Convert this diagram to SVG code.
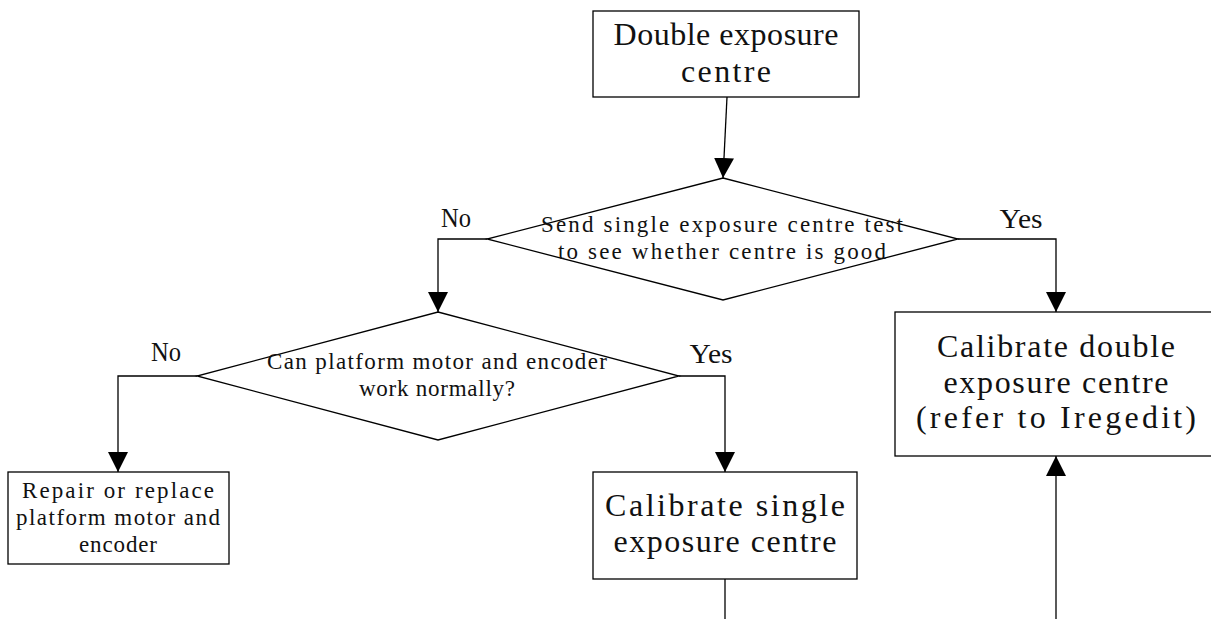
<svg xmlns="http://www.w3.org/2000/svg" width="1211" height="619" viewBox="0 0 1211 619">
<style>
.box{fill:#fff;stroke:#000;stroke-width:1.3}
.con{fill:none;stroke:#000;stroke-width:1.3}
.t{font-family:"Liberation Serif","Times New Roman",serif;fill:#111;text-anchor:middle}
.big{font-size:32px}
.mid{font-size:23px}
.lbl{font-size:28px}
</style>
<defs>
<marker id="arr" markerUnits="userSpaceOnUse" markerWidth="20" markerHeight="20" refX="20" refY="10" orient="auto">
<path d="M0,0 L20,10 L0,20 z" fill="#000"/>
</marker>
</defs>
<rect width="1211" height="619" fill="#fff"/>
<g id="connectors">
<path class="con" d="M727,97 L723,178" marker-end="url(#arr)"/>
<path class="con" d="M487,239 L438,239 L438,312" marker-end="url(#arr)"/>
<path class="con" d="M958,239 L1056,239 L1056,312" marker-end="url(#arr)"/>
<path class="con" d="M197,376 L118,376 L118,472" marker-end="url(#arr)"/>
<path class="con" d="M679,376 L725,376 L725,472" marker-end="url(#arr)"/>
<path class="con" d="M725,579 L725,619"/>
<path class="con" d="M1056,619 L1056,456" marker-end="url(#arr)"/>
<text class="t lbl" x="456" y="227" textLength="30" lengthAdjust="spacingAndGlyphs">No</text>
<text class="t lbl" x="1021" y="228" textLength="43" lengthAdjust="spacingAndGlyphs">Yes</text>
<text class="t lbl" x="166" y="361" textLength="30" lengthAdjust="spacingAndGlyphs">No</text>
<text class="t lbl" x="711" y="363" textLength="43" lengthAdjust="spacingAndGlyphs">Yes</text>
</g>
<g id="start">
<rect class="box" x="593" y="11" width="266" height="86"/>
<text class="t big" x="726" y="45" textLength="225">Double exposure</text>
<text class="t big" x="726" y="82" textLength="90">centre</text>
</g>
<g id="decision1">
<polygon class="box" points="723,178 958,239 723,300 487,239"/>
<text class="t mid" x="722" y="232" textLength="362">Send single exposure centre test</text>
<text class="t mid" x="722" y="259" textLength="328">to see whether centre is good</text>
</g>
<g id="decision2">
<polygon class="box" points="438,312 679,376 438,440 197,376"/>
<text class="t mid" x="437" y="369" textLength="340">Can platform motor and encoder</text>
<text class="t mid" x="437" y="396" textLength="156">work normally?</text>
</g>
<g id="repair">
<rect class="box" x="8" y="472" width="221" height="92"/>
<text class="t mid" x="118" y="498" textLength="192">Repair or replace</text>
<text class="t mid" x="118" y="525" textLength="204">platform motor and</text>
<text class="t mid" x="118" y="552" textLength="78">encoder</text>
</g>
<g id="calib-single">
<rect class="box" x="593" y="472" width="264" height="107"/>
<text class="t big" x="725" y="516" textLength="240">Calibrate single</text>
<text class="t big" x="725" y="552" textLength="223">exposure centre</text>
</g>
<g id="calib-double">
<rect class="box" x="895" y="312" width="322" height="144"/>
<text class="t big" x="1056" y="357" textLength="238">Calibrate double</text>
<text class="t big" x="1056" y="393" textLength="225">exposure centre</text>
<text class="t big" x="1056" y="428" textLength="280">(refer to Iregedit)</text>
</g>
</svg>
